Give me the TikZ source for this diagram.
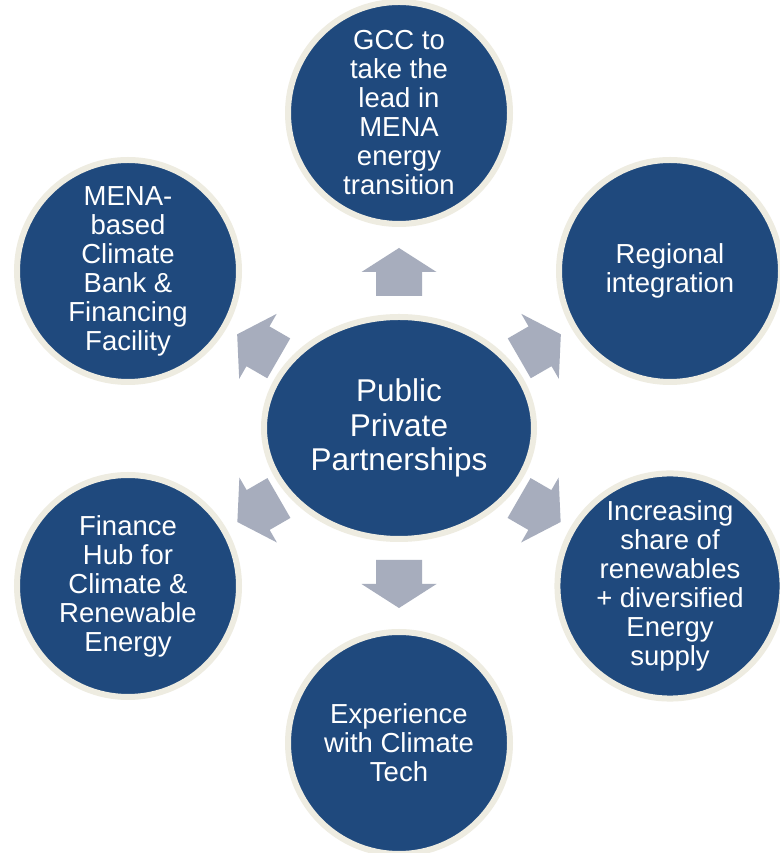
\documentclass[tikz,border=0pt]{standalone}
\usepackage{fontspec}
\setmainfont{Liberation Sans}
\usetikzlibrary{calc,shapes.geometric}

\definecolor{hubblue}{RGB}{31,73,125}
\definecolor{ringbeige}{RGB}{238,236,225}
\definecolor{arrowgray}{RGB}{167,173,189}

\tikzset{
  x=1pt, y=1pt,
  bubble/.style={circle, fill=hubblue, draw=ringbeige, line width=6pt,
    minimum size=222pt, inner sep=0pt, text=white, align=center,
    font=\fontsize{27.5}{29}\selectfont},
  hub/.style={ellipse, fill=hubblue, draw=ringbeige, line width=6pt,
    minimum width=270pt, minimum height=222pt, inner sep=0pt, text=white,
    align=center, font=\fontsize{31.5}{34.5}\selectfont},
  % block arrow: tail at the origin, pointing along +x
  blockarrow/.pic={
    \fill[arrowgray] (0,-23) -- (24,-23) -- (24,-37.5) -- (48,0)
      -- (24,37.5) -- (24,23) -- (0,23) -- cycle;
  }
}

\begin{document}
\begin{tikzpicture}
  \fill[white] (0,0) rectangle (779,853);
  \useasboundingbox (0,0) rectangle (779,853);

  % centre hub and surrounding goals
  \node[hub] (ppp) at (399,425) {Public\\Private\\Partnerships};
  \node[bubble] (gcc) at (399,740)
    {GCC to\\take the\\lead in\\MENA\\energy\\transition};
  \node[bubble] (reg) at (670,582) {Regional\\integration};
  \node[bubble] (ren) at (670,267)
    {Increasing\\share of\\renewables\\+ diversified\\Energy\\supply};
  \node[bubble] (exp) at (399,110) {Experience\\with Climate\\Tech};
  \node[bubble] (fin) at (128,267)
    {Finance\\Hub for\\Climate \&\\Renewable\\Energy};
  \node[bubble] (bank) at (128,582)
    {MENA-\\based\\Climate\\Bank \&\\Financing\\Facility};

  % outward arrows from the hub
  \pic[rotate=90]  (toGcc)  at ($(ppp.center)!132pt!(gcc.center)$)  {blockarrow};
  \pic[rotate=-90] (toExp)  at ($(ppp.center)!132pt!(exp.center)$)  {blockarrow};
  \pic[rotate=30]  (toReg)  at ($(ppp.center)!139pt!(reg.center)$)  {blockarrow};
  \pic[rotate=-30] (toRen)  at ($(ppp.center)!139pt!(ren.center)$)  {blockarrow};
  \pic[rotate=150] (toBank) at ($(ppp.center)!139pt!(bank.center)$) {blockarrow};
  \pic[rotate=210] (toFin)  at ($(ppp.center)!139pt!(fin.center)$)  {blockarrow};
\end{tikzpicture}
\end{document}
